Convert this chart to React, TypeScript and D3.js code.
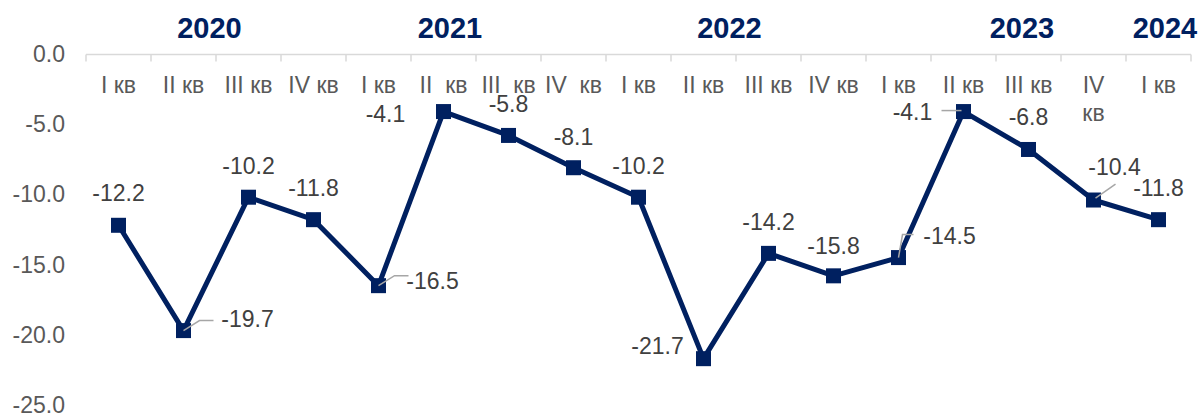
import React from 'react';
import * as d3 from 'd3';

// quarterly values, 2020 I кв .. 2024 I кв
const quarters = [
  'I кв', 'II кв', 'III кв', 'IV кв',
  'I кв', 'II  кв', 'III  кв', 'IV  кв',
  'I кв', 'II кв', 'III кв', 'IV кв',
  'I кв', 'II кв', 'III кв', 'IV\nкв',
  'I кв',
];
const values = [
  -12.2, -19.7, -10.2, -11.8,
  -16.5, -4.1, -5.8, -8.1,
  -10.2, -21.7, -14.2, -15.8,
  -14.5, -4.1, -6.8, -10.4,
  -11.8,
];
const years = ['2020', '2021', '2022', '2023', '2024'];
// where each year caption sits, in category units from the left edge
const yearAt = [1.9, 5.6, 9.9, 14.4, 16.6];
const yTicks = [0, -5, -10, -15, -20, -25];

// label offsets from the point: [dx, dy, leader]
const labelOffsets: [number, number, string | null][] = [
  [0, -32, null], [64, -12, 'r'], [0, -31, null], [0, -32, null],
  [54, -5, 'r'], [-58, 2, null], [0, -31, null], [0, -31, null],
  [0, -31, null], [-46, -13, null], [0, -31, null], [0, -30, null],
  [51, -22, 'up'], [-51, 0, 'left'], [0, -32, null], [21, -33, 'diag'],
  [0, -32, null],
];

const W = 1202;
const H = 414;
const navy = '#002060';
const grey = '#595959';
const font = '"Liberation Sans", Arial, sans-serif';

export default function App() {
  const x = d3.scaleBand<number>()
    .domain(d3.range(values.length))
    .range([86, 1191]);
  const y = d3.scaleLinear().domain([-25, 0]).range([405, 54]);
  const axisY = y(0) + 0.5;

  const line = d3.line<number>()
    .x((_, i) => x(i)! + x.bandwidth() / 2)
    .y((d) => y(d));

  const leader = (kind: string, px: number, py: number) => {
    if (kind === 'r') return `M${px},${py} L${px + 16},${py - 10} L${px + 30},${py - 10}`;
    if (kind === 'up') return `M${px},${py} L${px + 4},${py - 23} L${px + 15},${py - 23}`;
    if (kind === 'left') return `M${px - 2},${py - 1} L${px - 22},${py - 1}`;
    return `M${px + 2},${py - 2} L${px + 22},${py - 16}`;
  };

  return (
    <svg width={W} height={H} style={{ position: 'absolute', left: 0, top: 0 }} fontFamily={font}>
      {/* y axis labels */}
      {yTicks.map((t) => (
        <text key={t} x={65} y={y(t)} textAnchor="end" dominantBaseline="central" fontSize={23} fill={grey}>
          {t.toFixed(1)}
        </text>
      ))}

      {/* category axis on top */}
      <line x1={86} x2={1191} y1={axisY} y2={axisY} stroke="#d9d9d9" strokeWidth={1.5} />
      {d3.range(values.length + 1).map((i) => {
        const tx = 86 + i * x.step();
        return <line key={i} x1={tx} x2={tx} y1={axisY} y2={axisY + 7} stroke="#d9d9d9" strokeWidth={1.5} />;
      })}
      {quarters.map((q, i) => {
        const cx = x(i)! + x.bandwidth() / 2;
        return q.split('\n').map((part, k) => (
          <text key={i + '-' + k} x={cx} y={85 + k * 28} textAnchor="middle" dominantBaseline="central"
            fontSize={23} fill={grey} style={{ whiteSpace: 'pre' }}>
            {part}
          </text>
        ));
      })}
      {years.map((yr, i) => (
        <text key={yr} x={86 + yearAt[i] * x.step()} y={28} textAnchor="middle" dominantBaseline="central"
          fontSize={29} fontWeight="bold" fill={navy}>
          {yr}
        </text>
      ))}

      <path d={line(values)!} fill="none" stroke={navy} strokeWidth={5} strokeLinejoin="round" />
      {values.map((v, i) => (
        <rect key={'m' + i} x={x(i)! + x.bandwidth() / 2 - 7.5} y={y(v) - 7.5} width={15} height={15} fill={navy} />
      ))}

      {/* leader lines */}
      {values.map((v, i) => {
        const kind = labelOffsets[i][2];
        if (!kind) return null;
        const px = x(i)! + x.bandwidth() / 2;
        return <path key={'l' + i} d={leader(kind, px, y(v))} fill="none" stroke="#a6a6a6" strokeWidth={1.5} />;
      })}

      {/* data labels */}
      {values.map((v, i) => {
        const [dx, dy] = labelOffsets[i];
        return (
          <text key={'t' + i} x={x(i)! + x.bandwidth() / 2 + dx} y={y(v) + dy} textAnchor="middle"
            dominantBaseline="central" fontSize={23} fill="#404040">
            {v.toFixed(1)}
          </text>
        );
      })}
    </svg>
  );
}
